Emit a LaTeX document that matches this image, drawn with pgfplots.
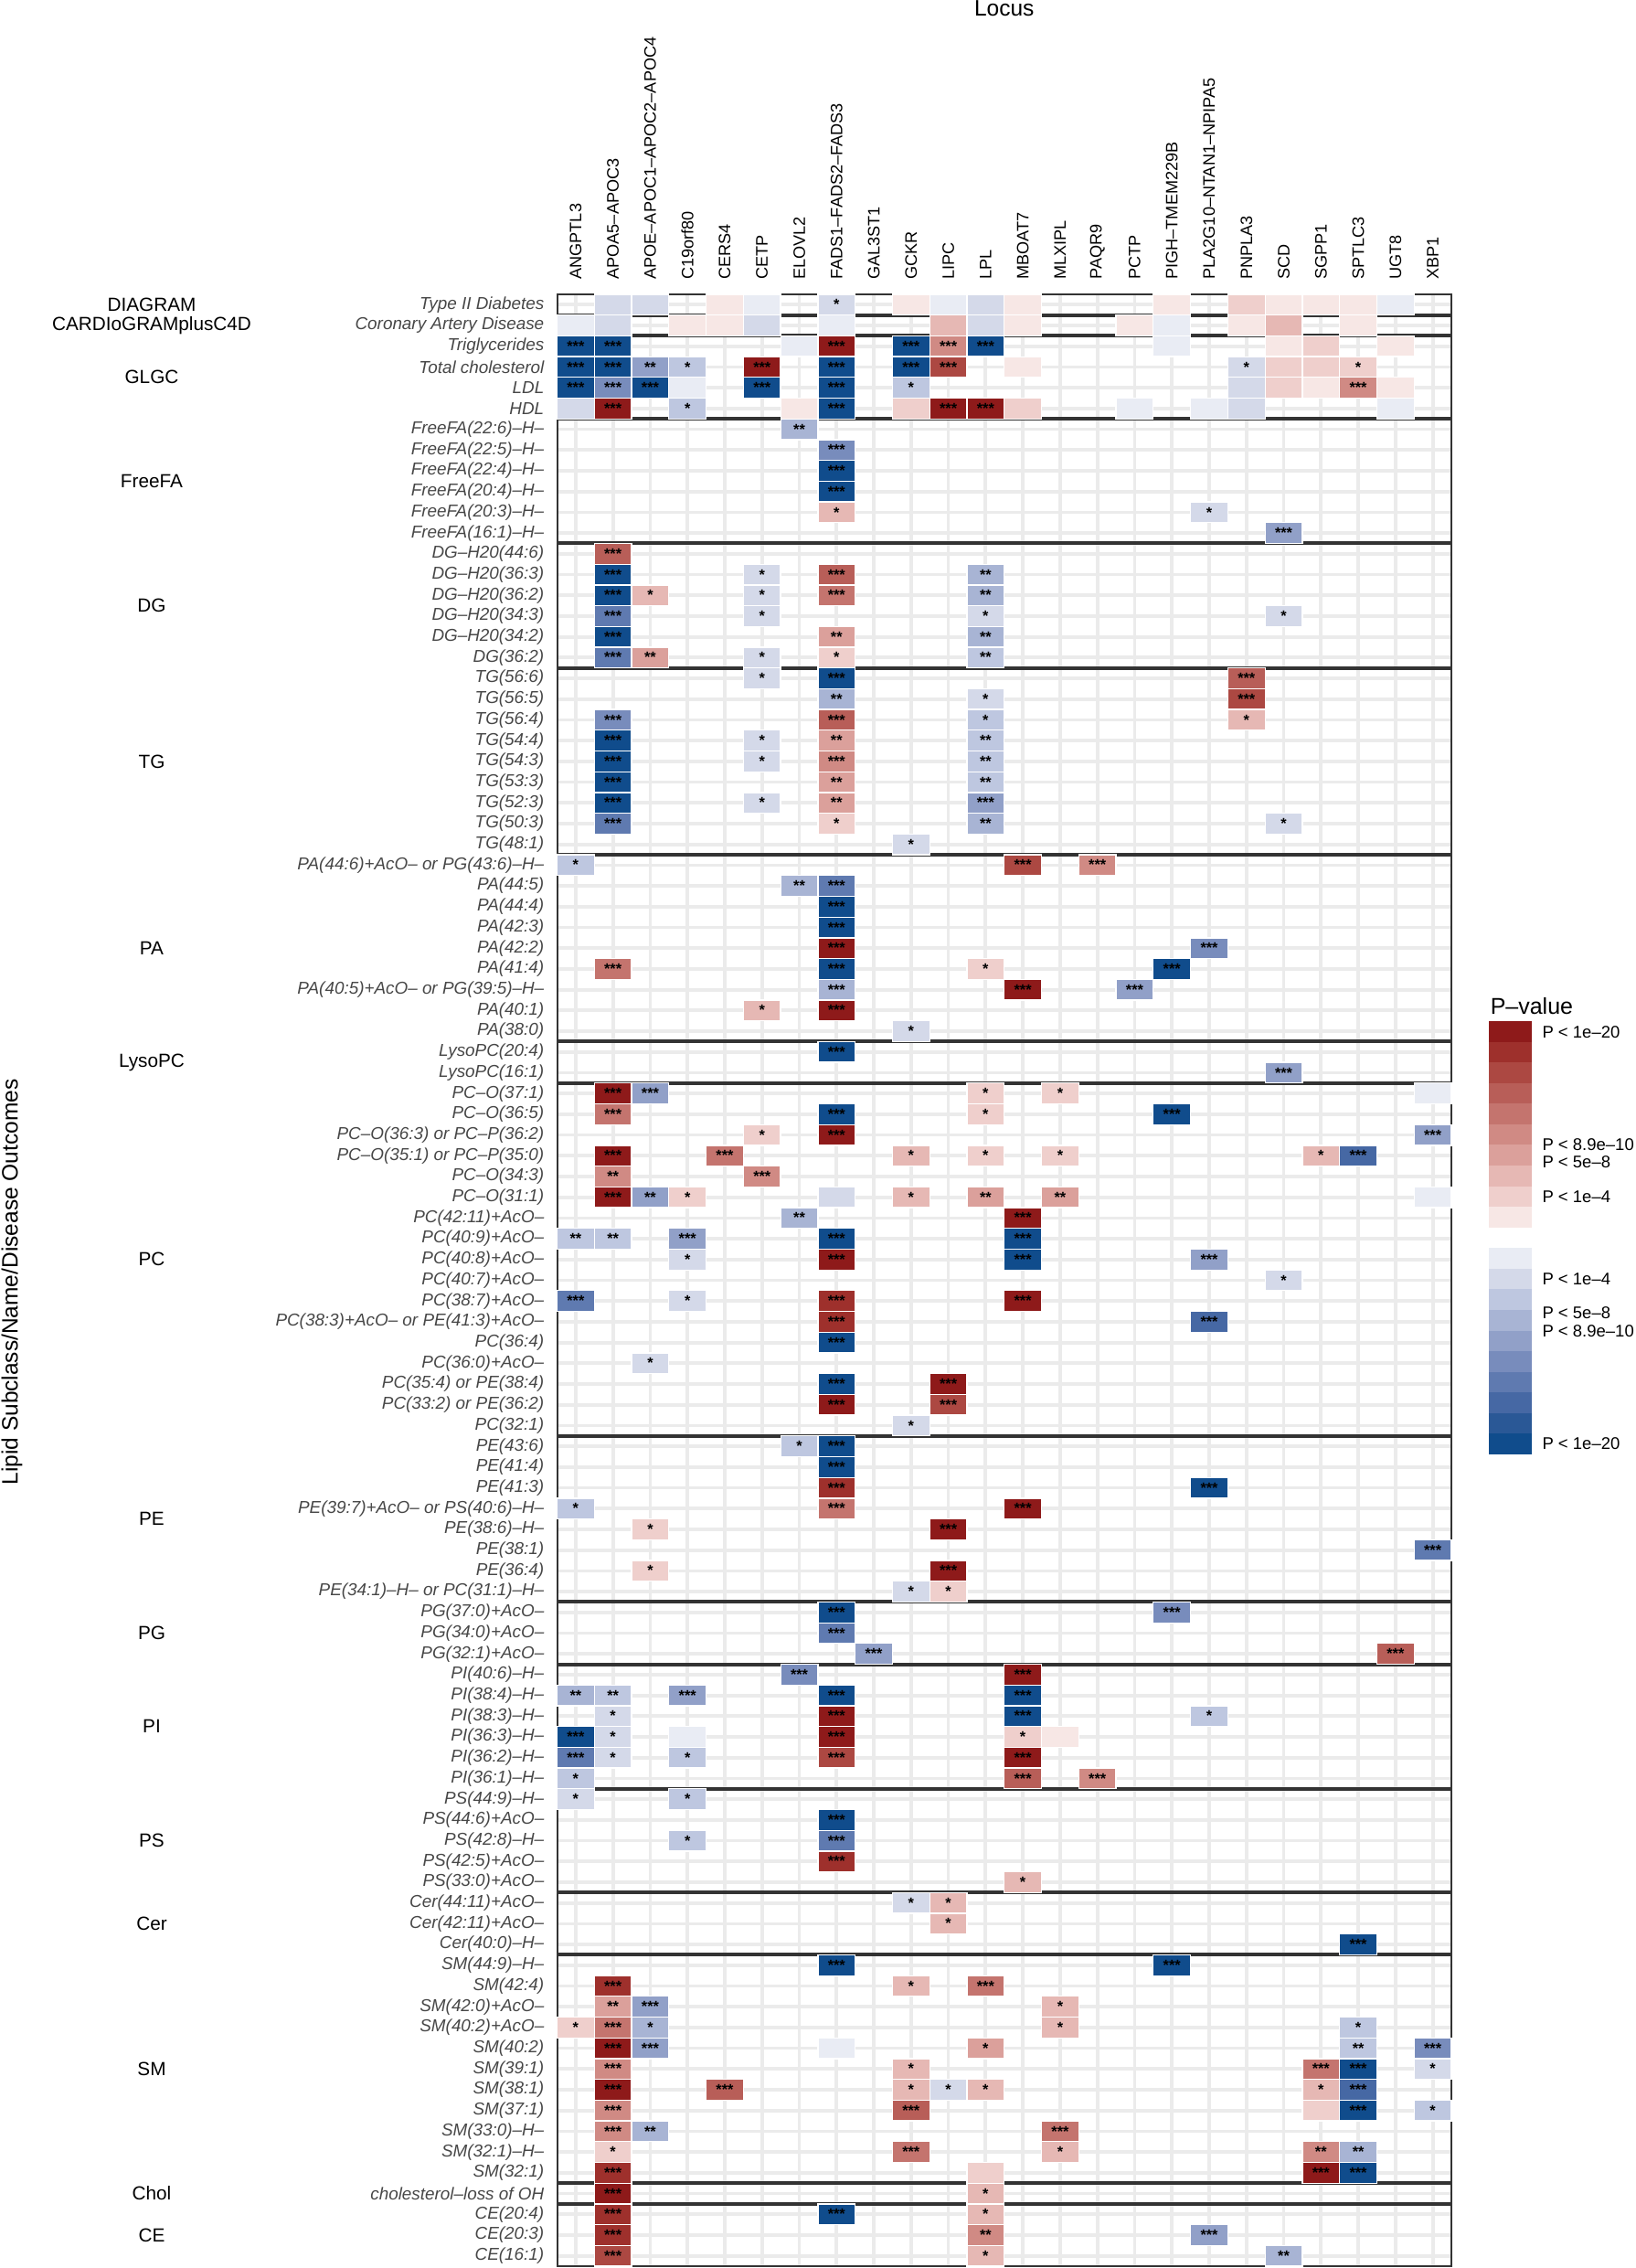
\documentclass[border=0pt]{standalone}
\usepackage{fontspec}
\setmainfont{Liberation Sans}
\usepackage{pgfplots}
\usepackage{pgfplotstable}
\pgfplotsset{compat=1.18}

% p-value shades: 1 = weakest, 10 = strongest
\definecolor{b1}{RGB}{233,236,244}
\definecolor{b2}{RGB}{212,217,233}
\definecolor{b3}{RGB}{190,199,224}
\definecolor{b4}{RGB}{168,180,212}
\definecolor{b5}{RGB}{145,160,200}
\definecolor{b6}{RGB}{120,140,188}
\definecolor{b7}{RGB}{95,122,176}
\definecolor{b8}{RGB}{70,104,164}
\definecolor{b9}{RGB}{42,88,150}
\definecolor{b10}{RGB}{16,76,140}
\definecolor{r1}{RGB}{247,231,229}
\definecolor{r2}{RGB}{239,207,204}
\definecolor{r3}{RGB}{230,184,180}
\definecolor{r4}{RGB}{219,160,155}
\definecolor{r5}{RGB}{208,138,132}
\definecolor{r6}{RGB}{196,116,110}
\definecolor{r7}{RGB}{184,94,88}
\definecolor{r8}{RGB}{172,72,66}
\definecolor{r9}{RGB}{158,48,44}
\definecolor{r10}{RGB}{142,26,26}

\pgfdeclareplotmark{cell}{\pgfpathrectangle{\pgfqpoint{-8.15pt}{-4.54pt}}{\pgfqpoint{16.3pt}{9.08pt}}\pgfusepathqfillstroke}
\pgfdeclareplotmark{legcell}{\pgfpathrectangle{\pgfqpoint{-9.4pt}{-4.53pt}}{\pgfqpoint{18.8pt}{9.06pt}}\pgfusepathqfill}

\pgfplotsset{
  pclasses/.style={scatter/classes={
    b1={fill=b1},b2={fill=b2},b3={fill=b3},b4={fill=b4},b5={fill=b5},
    b6={fill=b6},b7={fill=b7},b8={fill=b8},b9={fill=b9},b10={fill=b10},
    r1={fill=r1},r2={fill=r2},r3={fill=r3},r4={fill=r4},r5={fill=r5},
    r6={fill=r6},r7={fill=r7},r8={fill=r8},r9={fill=r9},r10={fill=r10}}},
  sep/.style={black!80, line width=1.6pt},
}
\tikzset{grp/.style={font=\fontsize{8.3}{10}\selectfont, anchor=center, xshift=-177.4pt}}

% c = locus column, r = row from top, v = shade, s = stars
\pgfplotstableread{
c r v s
1 0 b2 {}
2 0 b2 {}
4 0 r1 {}
5 0 b1 {}
7 0 b2 *
9 0 r1 {}
10 0 b1 {}
11 0 b2 {}
12 0 r1 {}
16 0 r1 {}
18 0 r2 {}
19 0 r1 {}
20 0 r1 {}
21 0 r1 {}
22 0 b1 {}
0 1 b1 {}
1 1 b2 {}
3 1 r1 {}
4 1 r1 {}
5 1 b2 {}
7 1 b1 {}
10 1 r3 {}
11 1 b2 {}
12 1 r1 {}
15 1 r1 {}
16 1 b1 {}
18 1 r1 {}
19 1 r3 {}
21 1 r1 {}
0 2 b10 ***
1 2 b10 ***
6 2 b1 {}
7 2 r10 ***
9 2 b10 ***
10 2 r5 ***
11 2 b10 ***
16 2 b1 {}
19 2 r1 {}
20 2 r2 {}
22 2 r1 {}
0 3 b10 ***
1 3 b10 ***
2 3 b5 **
3 3 b3 *
5 3 r10 ***
7 3 b10 ***
9 3 b10 ***
10 3 r8 ***
12 3 r1 {}
18 3 b2 *
19 3 r2 {}
20 3 r2 {}
21 3 r2 *
0 4 b10 ***
1 4 b6 ***
2 4 b10 ***
3 4 b1 {}
5 4 b10 ***
7 4 b10 ***
9 4 b3 *
18 4 b2 {}
19 4 r2 {}
20 4 r1 {}
21 4 r5 ***
22 4 r1 {}
0 5 b2 {}
1 5 r10 ***
3 5 b3 *
6 5 r1 {}
7 5 b10 ***
9 5 r2 {}
10 5 r10 ***
11 5 r10 ***
12 5 r2 {}
15 5 b1 {}
17 5 b1 {}
18 5 b2 {}
22 5 b1 {}
6 6 b4 **
7 7 b6 ***
7 8 b10 ***
7 9 b10 ***
7 10 r3 *
17 10 b2 *
19 11 b5 ***
1 12 r7 ***
1 13 b10 ***
5 13 b2 *
7 13 r7 ***
11 13 b4 **
1 14 b10 ***
2 14 r3 *
5 14 b2 *
7 14 r6 ***
11 14 b4 **
1 15 b7 ***
5 15 b2 *
11 15 b2 *
19 15 b2 *
1 16 b10 ***
7 16 r4 **
11 16 b4 **
1 17 b7 ***
2 17 r4 **
5 17 b2 *
7 17 r2 *
11 17 b3 **
5 18 b2 *
7 18 b10 ***
18 18 r7 ***
7 19 b4 **
11 19 b2 *
18 19 r8 ***
1 20 b6 ***
7 20 r7 ***
11 20 b3 *
18 20 r3 *
1 21 b10 ***
5 21 b2 *
7 21 r4 **
11 21 b3 **
1 22 b10 ***
5 22 b2 *
7 22 r5 ***
11 22 b3 **
1 23 b10 ***
7 23 r4 **
11 23 b3 **
1 24 b10 ***
5 24 b2 *
7 24 r4 **
11 24 b5 ***
1 25 b7 ***
7 25 r2 *
11 25 b4 **
19 25 b2 *
9 26 b2 *
0 27 b3 *
12 27 r8 ***
14 27 r5 ***
6 28 b4 **
7 28 b7 ***
7 29 b10 ***
7 30 b10 ***
7 31 r10 ***
17 31 b6 ***
1 32 r6 ***
7 32 b10 ***
11 32 r2 *
16 32 b10 ***
7 33 b4 ***
12 33 r10 ***
15 33 b5 ***
5 34 r3 *
7 34 r10 ***
9 35 b2 *
7 36 b10 ***
19 37 b5 ***
1 38 r10 ***
2 38 b5 ***
11 38 r2 *
13 38 r2 *
23 38 b1 {}
1 39 r6 ***
7 39 b10 ***
11 39 r2 *
16 39 b10 ***
5 40 r2 *
7 40 r10 ***
23 40 b5 ***
1 41 r10 ***
4 41 r6 ***
9 41 r3 *
11 41 r2 *
13 41 r2 *
20 41 r3 *
21 41 b8 ***
1 42 r5 **
5 42 r5 ***
1 43 r10 ***
2 43 b5 **
3 43 r2 *
7 43 b2 {}
9 43 r3 *
11 43 r4 **
13 43 r4 **
23 43 b1 {}
6 44 b4 **
12 44 r10 ***
0 45 b3 **
1 45 b3 **
3 45 b5 ***
7 45 b10 ***
12 45 b10 ***
3 46 b2 *
7 46 r10 ***
12 46 b10 ***
17 46 b5 ***
19 47 b2 *
0 48 b7 ***
3 48 b2 *
7 48 r9 ***
12 48 r10 ***
7 49 r9 ***
17 49 b8 ***
7 50 b10 ***
2 51 b2 *
7 52 b10 ***
10 52 r10 ***
7 53 r10 ***
10 53 r8 ***
9 54 b2 *
6 55 b3 *
7 55 b10 ***
7 56 b10 ***
7 57 r9 ***
17 57 b10 ***
0 58 b3 *
7 58 r6 ***
12 58 r10 ***
2 59 r2 *
10 59 r10 ***
23 60 b7 ***
2 61 r2 *
10 61 r10 ***
9 62 b2 *
10 62 r2 *
7 63 b10 ***
16 63 b6 ***
7 64 b7 ***
8 65 b5 ***
22 65 r7 ***
6 66 b6 ***
12 66 r10 ***
0 67 b4 **
1 67 b3 **
3 67 b5 ***
7 67 b10 ***
12 67 b10 ***
1 68 b2 *
7 68 r10 ***
12 68 b10 ***
17 68 b3 *
0 69 b10 ***
1 69 b2 *
3 69 b1 {}
7 69 r10 ***
12 69 r2 *
13 69 r1 {}
0 70 b7 ***
1 70 b2 *
3 70 b3 *
7 70 r8 ***
12 70 r10 ***
0 71 b3 *
12 71 r7 ***
14 71 r5 ***
0 72 b2 *
3 72 b3 *
7 73 b10 ***
3 74 b3 *
7 74 b7 ***
7 75 r9 ***
12 76 r3 *
9 77 b2 *
10 77 r3 *
10 78 r3 *
21 79 b10 ***
7 80 b10 ***
16 80 b10 ***
1 81 r9 ***
9 81 r3 *
11 81 r6 ***
1 82 r4 **
2 82 b5 ***
13 82 r3 *
0 83 r2 *
1 83 r6 ***
2 83 b4 *
13 83 r3 *
21 83 b3 *
1 84 r10 ***
2 84 b5 ***
7 84 b1 {}
11 84 r4 *
21 84 b3 **
23 84 b6 ***
1 85 r5 ***
9 85 r3 *
20 85 r6 ***
21 85 b10 ***
23 85 b2 *
1 86 r10 ***
4 86 r7 ***
9 86 r3 *
10 86 b2 *
11 86 r3 *
20 86 r3 *
21 86 b8 ***
1 87 r5 ***
9 87 r7 ***
20 87 r2 {}
21 87 b10 ***
23 87 b3 *
1 88 r5 ***
2 88 b4 **
13 88 r6 ***
1 89 r2 *
9 89 r6 ***
13 89 r3 *
20 89 r5 **
21 89 b4 **
1 90 r9 ***
11 90 r2 {}
20 90 r10 ***
21 90 b10 ***
1 91 r10 ***
11 91 r3 *
1 92 r9 ***
7 92 b10 ***
11 92 r3 *
1 93 r9 ***
11 93 r5 **
17 93 b5 ***
1 94 r8 ***
11 94 r3 *
19 94 b4 **
}\cells

\pgfplotstableread{
x y v
0.5 0.5 b10
0.5 1.5 b9
0.5 2.5 b8
0.5 3.5 b7
0.5 4.5 b6
0.5 5.5 b5
0.5 6.5 b4
0.5 7.5 b3
0.5 8.5 b2
0.5 9.5 b1
0.5 11.5 r1
0.5 12.5 r2
0.5 13.5 r3
0.5 14.5 r4
0.5 15.5 r5
0.5 16.5 r6
0.5 17.5 r7
0.5 18.5 r8
0.5 19.5 r9
0.5 20.5 r10
}\legtab

\begin{document}
\begin{tikzpicture}
\useasboundingbox (0,0) rectangle (715.6pt,-992.4pt);

\begin{axis}[
  at={(439.5pt,-560.2pt)}, anchor=center,
  scale only axis, width=391.4pt, height=862.8pt,
  xmin=-0.5, xmax=23.5, ymin=-0.5, ymax=94.5,
  clip=false,
  axis line style={draw=none},
  tick style={draw=none},
  grid=major, major grid style={black!8, line width=1.5pt},
  xtick={0,...,23},
  xticklabels={ANGPTL3, APOA5–APOC3, APOE–APOC1–APOC2–APOC4, C19orf80, CERS4, CETP, ELOVL2, FADS1–FADS2–FADS3, GAL3ST1, GCKR, LIPC, LPL, MBOAT7, MLXIPL, PAQR9, PCTP, PIGH–TMEM229B, PLA2G10–NTAN1–NPIPA5, PNPLA3, SCD, SGPP1, SPTLC3, UGT8, XBP1},
  xticklabel pos=upper,
  xticklabel style={rotate=90, anchor=west, inner sep=0pt, font=\fontsize{7.25}{8}\selectfont},
  xticklabel shift=6.4pt,
  ytick={94,93,...,0},
  yticklabels={Type II Diabetes, Coronary Artery Disease, Triglycerides, Total cholesterol, LDL, HDL,
    FreeFA(22:6)–H–, FreeFA(22:5)–H–, FreeFA(22:4)–H–, FreeFA(20:4)–H–, FreeFA(20:3)–H–, FreeFA(16:1)–H–,
    DG–H20(44:6), DG–H20(36:3), DG–H20(36:2), DG–H20(34:3), DG–H20(34:2), DG(36:2),
    TG(56:6), TG(56:5), TG(56:4), TG(54:4), TG(54:3), TG(53:3), TG(52:3), TG(50:3), TG(48:1),
    PA(44:6)+AcO– or PG(43:6)–H–, PA(44:5), PA(44:4), PA(42:3), PA(42:2), PA(41:4), PA(40:5)+AcO– or PG(39:5)–H–, PA(40:1), PA(38:0),
    LysoPC(20:4), LysoPC(16:1),
    PC–O(37:1), PC–O(36:5), PC–O(36:3) or PC–P(36:2), PC–O(35:1) or PC–P(35:0), PC–O(34:3), PC–O(31:1),
    PC(42:11)+AcO–, PC(40:9)+AcO–, PC(40:8)+AcO–, PC(40:7)+AcO–, PC(38:7)+AcO–, PC(38:3)+AcO– or PE(41:3)+AcO–,
    PC(36:4), PC(36:0)+AcO–, PC(35:4) or PE(38:4), PC(33:2) or PE(36:2), PC(32:1),
    PE(43:6), PE(41:4), PE(41:3), PE(39:7)+AcO– or PS(40:6)–H–, PE(38:6)–H–, PE(38:1), PE(36:4), PE(34:1)–H– or PC(31:1)–H–,
    PG(37:0)+AcO–, PG(34:0)+AcO–, PG(32:1)+AcO–,
    PI(40:6)–H–, PI(38:4)–H–, PI(38:3)–H–, PI(36:3)–H–, PI(36:2)–H–, PI(36:1)–H–,
    PS(44:9)–H–, PS(44:6)+AcO–, PS(42:8)–H–, PS(42:5)+AcO–, PS(33:0)+AcO–,
    Cer(44:11)+AcO–, Cer(42:11)+AcO–, Cer(40:0)–H–,
    SM(44:9)–H–, SM(42:4), SM(42:0)+AcO–, SM(40:2)+AcO–, SM(40:2), SM(39:1), SM(38:1), SM(37:1), SM(33:0)–H–, SM(32:1)–H–, SM(32:1),
    cholesterol–loss of OH, CE(20:4), CE(20:3), CE(16:1)},
  yticklabel style={anchor=east, inner sep=0pt, text=black!72, font=\fontsize{7.55}{8}\selectfont\itshape},
  yticklabel shift=5.5pt,
]
\addplot[scatter, only marks, mark=cell, scatter src=explicit symbolic,
  mark options={draw=white, line width=0.5pt}, pclasses]
  table[x=c, y expr=94-\thisrow{r}, meta=v] {\cells};
\addplot[draw=none, mark=none, point meta=explicit symbolic,
  nodes near coords, nodes near coords align={center},
  nodes near coords style={inner sep=0pt, font=\fontsize{6.5}{6.5}\selectfont\bfseries}]
  table[x=c, y expr=94-\thisrow{r}, meta=s] {\cells};
\pgfplotsinvokeforeach{93.5,92.5,88.5,82.5,76.5,67.5,58.5,56.5,39.5,31.5,28.5,22.5,17.5,14.5,3.5,2.5}{
  \addplot[sep] coordinates {(-0.5,#1) (23.5,#1)};
}
\addplot[black!80, line width=0.8pt, line cap=rect] coordinates {(-0.5,-0.5) (23.5,-0.5) (23.5,94.5) (-0.5,94.5) (-0.5,-0.5)};
\node[grp] at (-0.5,94) {DIAGRAM};
\node[grp] at (-0.5,93) {CARDIoGRAMplusC4D};
\node[grp] at (-0.5,90.5) {GLGC};
\node[grp] at (-0.5,85.5) {FreeFA};
\node[grp] at (-0.5,79.5) {DG};
\node[grp] at (-0.5,72) {TG};
\node[grp] at (-0.5,63) {PA};
\node[grp] at (-0.5,57.5) {LysoPC};
\node[grp] at (-0.5,48) {PC};
\node[grp] at (-0.5,35.5) {PE};
\node[grp] at (-0.5,30) {PG};
\node[grp] at (-0.5,25.5) {PI};
\node[grp] at (-0.5,20) {PS};
\node[grp] at (-0.5,16) {Cer};
\node[grp] at (-0.5,9) {SM};
\node[grp] at (-0.5,3) {Chol};
\node[grp] at (-0.5,1) {CE};
\end{axis}

\begin{axis}[
  at={(661pt,-541.6pt)}, anchor=center,
  scale only axis, width=18.8pt, height=189.6pt,
  xmin=0, xmax=1, ymin=0, ymax=21,
  clip=false, axis on top,
  axis line style={draw=none},
  xtick=\empty,
  ytick={0.53,5.98,6.85,8.5,12.5,14.15,15.02,20.47},
  yticklabels={P < 1e–20, P < 8.9e–10, P < 5e–8, P < 1e–4, P < 1e–4, P < 5e–8, P < 8.9e–10, P < 1e–20},
  yticklabel pos=right,
  tick align=inside, major tick length=3.6pt,
  tick style={draw=white, line width=0.8pt},
  yticklabel style={anchor=west, inner sep=0pt, font=\fontsize{7.4}{8}\selectfont},
  yticklabel shift=4.4pt,
]
\addplot[scatter, only marks, mark=legcell, scatter src=explicit symbolic,
  mark options={draw=none}, pclasses]
  table[x=x, y=y, meta=v] {\legtab};
\node[anchor=base west, font=\fontsize{10}{12}\selectfont, inner sep=0pt] at (rel axis cs:0,1) [yshift=3pt, xshift=0.5pt] {P–value};
\end{axis}

\node[font=\fontsize{9.8}{12}\selectfont] at (439.5pt,-3.7pt) {Locus};
\node[font=\fontsize{9.8}{12}\selectfont, rotate=90] at (5.2pt,-561pt) {Lipid Subclass/Name/Disease Outcomes};
\end{tikzpicture}
\end{document}
